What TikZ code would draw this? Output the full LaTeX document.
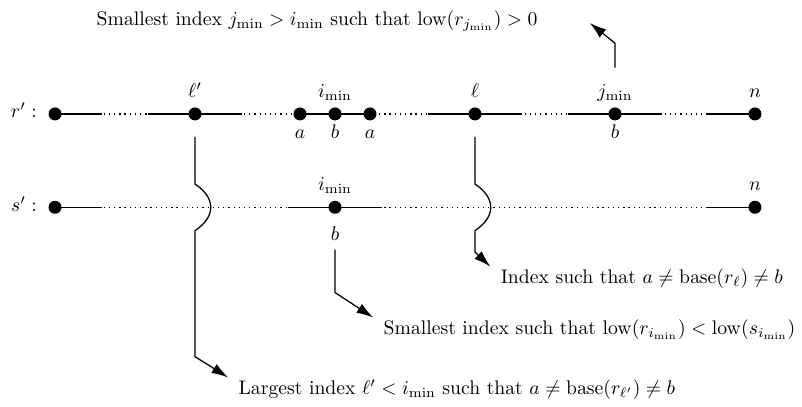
\documentclass[tikz,border=0pt]{standalone}
\usepackage{amsmath,amssymb}
\usepackage{tikz}
\usetikzlibrary{arrows.meta,positioning}

\tikzset{
  idx/.style={circle, fill, inner sep=0pt, minimum size=6.6pt},
  note/.style={anchor=west, inner xsep=5pt, inner ysep=1pt},
  every label/.style={text height=1.2ex, text depth=.25ex},
}

\begin{document}
\begin{tikzpicture}[x=2.5cm,y=2.5cm,>={Latex[length=8.5pt,width=5.3pt]},line width=0.64pt]
\useasboundingbox (-0.393,-2.093) rectangle (5.336,0.814);

% row r'
\node (r0) [idx, label={[label distance=2pt]left:$r':$}] at (0,0) {};
\node (lp) [idx, label=above:$\ell'$] at (1,0) {};
\node (ra) [idx, label=below:$a$] at (1.75,0) {};
\node (ri) [idx, label=above:$i_{\min}$, label=below:$b$] at (2,0) {};
\node (rc) [idx, label=below:$a$] at (2.25,0) {};
\node (rl) [idx, label=above:$\ell$] at (3,0) {};
\node (rj) [idx, label={[name=jl]above:$j_{\min}$}, label=below:$b$] at (4,0) {};
\node (rn) [idx, label=above:$n$] at (5,0) {};

\draw[dotted] (r0) -- (rn);
\draw (r0.center) -- +(1/3,0);
\draw (rn.center) -- +(-1/3,0);
\draw (ra) -- (rc);
\foreach \v in {lp,rl,rj}
  \draw (\v.center) +(-1/3,0) -- +(1/3,0);

% row s'
\node (s0) [idx, label={[label distance=2pt]left:$s':$}] at (0,-2/3) {};
\node (si) [idx, label=above:$i_{\min}$, label={[name=sib,label distance=4.3pt]below:$b$}] at (2,-2/3) {};
\node (sn) [idx, label=above:$n$] at (5,-2/3) {};

\draw[dotted] (s0) -- (sn);
\draw (s0.center) -- +(1/3,0);
\draw (sn.center) -- +(-1/3,0);
\draw (si.center) +(-1/3,0) -- +(1/3,0);

% notes
\node (jtext) [note] at (0.223,0.664) {Smallest index $j_{\min} > i_{\min}$ such that $\operatorname{low}(r_{j_{\min}}) > 0$};
\node (ltext) [note] at (3.11,-1.179) {Index such that $a \neq \operatorname{base}(r_\ell) \neq b$};
\node (itext) [note] at (2.273,-1.543) {Smallest index such that $\operatorname{low}(r_{i_{\min}}) < \operatorname{low}(s_{i_{\min}})$};
\node (lptext) [note] at (1.237,-1.971) {Largest index $\ell' < i_{\min}$ such that $a \neq \operatorname{base}(r_{\ell'}) \neq b$};
\coordinate (jtip) at (3.82,0.65);

% connectors
\draw[->] ([yshift=-11.7pt]lp.center) -- ++(0,-0.336)
  .. controls +(0.15,-0.1) and +(0.15,0.1) .. ++(0,-1/3)
  -- ++(0,-0.9) -- (lptext.north west);
\draw[->] ([yshift=-11.7pt]rl.center) -- ++(0,-0.336)
  .. controls +(0.15,-0.1) and +(0.15,0.1) .. ++(0,-1/3)
  -- ++(0,-0.153) -- (ltext.north west);
\draw[->] (sib.south) -- ++(0,-0.307) -- (itext.north west);
\draw[->, shorten <=6.4pt] (jl.north) -- ++(0,0.264) -- (jtip);
\end{tikzpicture}
\end{document}
